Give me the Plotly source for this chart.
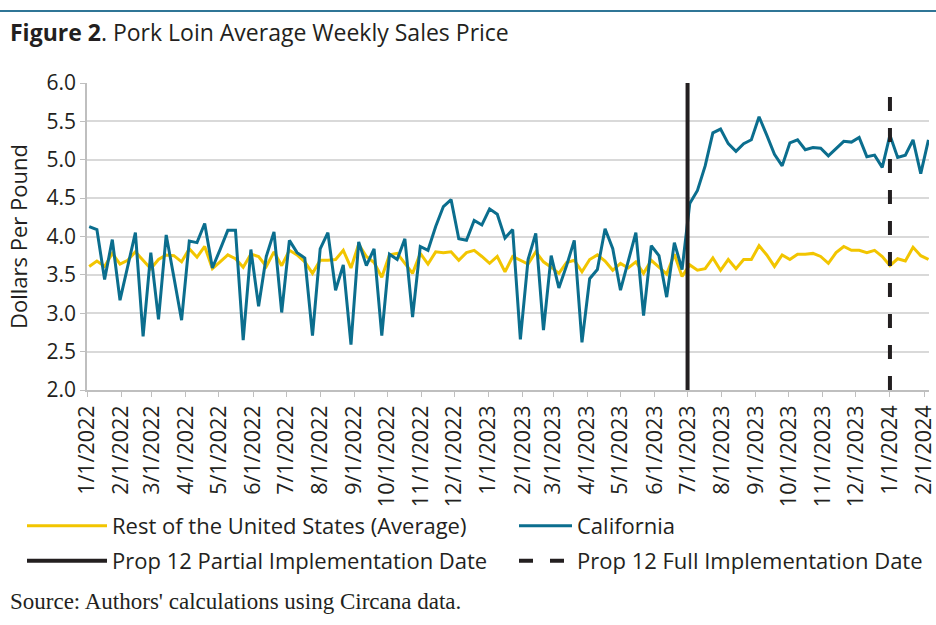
import pandas as pd
import plotly.graph_objects as go

# ---------------- data ----------------
first_week = "2022-01-03"
n_weeks = 110
week_dates = pd.date_range(first_week, periods=n_weeks, freq="7D")

rest_of_us = [
    3.61, 3.68, 3.61, 3.78, 3.64, 3.69, 3.80, 3.69, 3.58, 3.70,
    3.76, 3.75, 3.67, 3.84, 3.73, 3.87, 3.58, 3.67, 3.76, 3.71,
    3.60, 3.77, 3.74, 3.61, 3.80, 3.62, 3.82, 3.76, 3.67, 3.52,
    3.69, 3.69, 3.70, 3.82, 3.59, 3.90, 3.74, 3.66, 3.47, 3.76,
    3.78, 3.65, 3.52, 3.78, 3.64, 3.80, 3.79, 3.80, 3.69, 3.79,
    3.82, 3.74, 3.65, 3.74, 3.54, 3.74, 3.69, 3.64, 3.80, 3.67,
    3.60, 3.52, 3.66, 3.69, 3.54, 3.70, 3.76, 3.68, 3.56, 3.65,
    3.59, 3.67, 3.52, 3.69, 3.60, 3.51, 3.77, 3.48, 3.63, 3.56,
    3.58, 3.72, 3.56, 3.70, 3.58, 3.70, 3.70, 3.88, 3.76, 3.61,
    3.76, 3.70, 3.77, 3.77, 3.78, 3.74, 3.65, 3.79, 3.87, 3.82,
    3.82, 3.79, 3.82, 3.74, 3.62, 3.71, 3.68, 3.86, 3.75, 3.70,
]

california = [
    4.13, 4.09, 3.44, 3.96, 3.17, 3.62, 4.05, 2.70, 3.79, 2.92,
    4.02, 3.47, 2.91, 3.94, 3.92, 4.17, 3.59, 3.83, 4.08, 4.08,
    2.65, 3.83, 3.09, 3.74, 4.06, 3.01, 3.95, 3.79, 3.72, 2.71,
    3.84, 4.05, 3.30, 3.63, 2.59, 3.93, 3.62, 3.84, 2.71, 3.77,
    3.70, 3.97, 2.95, 3.87, 3.82, 4.13, 4.39, 4.48, 3.97, 3.95,
    4.21, 4.15, 4.36, 4.29, 3.98, 4.09, 2.66, 3.70, 4.04, 2.78,
    3.75, 3.33, 3.62, 3.95, 2.62, 3.45, 3.57, 4.10, 3.84, 3.30,
    3.69, 4.05, 2.97, 3.88, 3.75, 3.21, 3.92, 3.57, 4.43, 4.60,
    4.92, 5.35, 5.40, 5.21, 5.11, 5.21, 5.26, 5.56, 5.32, 5.07,
    4.92, 5.22, 5.26, 5.13, 5.16, 5.15, 5.05, 5.15, 5.24, 5.23,
    5.29, 5.04, 5.06, 4.90, 5.32, 5.03, 5.06, 5.26, 4.82, 5.26,
]

partial_date = "2023-07-01"
full_date = "2024-01-01"
y_limits = [2.0, 6.0]

tick_dates = [
    "2022-01-01", "2022-02-01", "2022-03-01", "2022-04-01", "2022-05-01",
    "2022-06-01", "2022-07-01", "2022-08-01", "2022-09-01", "2022-10-01",
    "2022-11-01", "2022-12-01", "2023-01-01", "2023-02-01", "2023-03-01",
    "2023-04-01", "2023-05-01", "2023-06-01", "2023-07-01", "2023-08-01",
    "2023-09-01", "2023-10-01", "2023-11-01", "2023-12-01", "2024-01-01",
    "2024-02-01",
]
tick_labels = [
    "1/1/2022", "2/1/2022", "3/1/2022", "4/1/2022", "5/1/2022",
    "6/1/2022", "7/1/2022", "8/1/2022", "9/1/2022", "10/1/2022",
    "11/1/2022", "12/1/2022", "1/1/2023", "2/1/2023", "3/1/2023",
    "4/1/2023", "5/1/2023", "6/1/2023", "7/1/2023", "8/1/2023",
    "9/1/2023", "10/1/2023", "11/1/2023", "12/1/2023", "1/1/2024",
    "2/1/2024",
]

# ---------------- style ----------------
FONT = "Open Sans"
TEXT = "#231F20"
YELLOW = "#F2C500"
BLUE = "#0B6E8E"
BLACK = "#231F20"
GRID = "#D9D9D9"
AXIS = "#BFBFBF"

W, H = 936, 625
L, R, T, B = 87, 7, 83, 235
PW, PH = W - L - R, H - T - B


def px_x(p):
    return (p - L) / PW


def px_y(p):
    return (H - B - p) / PH


fig = go.Figure()
fig.add_trace(go.Scatter(
    x=week_dates, y=rest_of_us, mode="lines",
    name="Rest of the United States (Average)",
    line=dict(color=YELLOW, width=3), legend="legend", showlegend=True))
fig.add_trace(go.Scatter(
    x=week_dates, y=california, mode="lines", name="California",
    line=dict(color=BLUE, width=3), legend="legend2", showlegend=True))
fig.add_trace(go.Scatter(
    x=[partial_date, partial_date], y=y_limits, mode="lines",
    name="Prop 12 Partial Implementation Date",
    line=dict(color=BLACK, width=4), legend="legend3", showlegend=True))
fig.add_trace(go.Scatter(
    x=[full_date, full_date], y=y_limits, mode="lines",
    name="Prop 12 Full Implementation Date",
    line=dict(color=BLACK, width=4, dash="14px,17px"), legend="legend4",
    showlegend=True))

legend_common = dict(
    orientation="v", xanchor="left", yanchor="middle",
    bgcolor="rgba(0,0,0,0)", borderwidth=0,
    font=dict(family=FONT, size=22, color=TEXT),
)

fig.update_layout(
    width=W, height=H,
    showlegend=True,
    margin=dict(l=L, r=R, t=T, b=B, autoexpand=False),
    paper_bgcolor="white", plot_bgcolor="white",
    font=dict(family=FONT, color=TEXT),
    title=dict(
        text="<b>Figure 2</b>. Pork Loin Average Weekly Sales Price",
        x=10 / W, xref="container", xanchor="left",
        y=1 - 33 / H, yref="container", yanchor="middle",
        font=dict(family=FONT, size=23, color=TEXT),
    ),
    xaxis=dict(
        type="date",
        range=["2022-01-01", "2024-02-05 12:00"],
        tickmode="array", tickvals=tick_dates, ticktext=tick_labels,
        tickangle=-90, tickfont=dict(family=FONT, size=21.5, color=TEXT),
        ticklabeloverflow="allow", automargin=False,
        ticks="outside", ticklen=5, tickcolor=AXIS,
        showgrid=False, showline=True, linecolor=AXIS, linewidth=1.5,
        zeroline=False,
    ),
    yaxis=dict(
        range=y_limits, dtick=0.5, tickformat=".1f",
        tickfont=dict(family=FONT, size=21, color=TEXT),
        ticks="outside", ticklen=5, tickcolor=AXIS, automargin=False,
        showgrid=True, gridcolor=GRID, gridwidth=1.5,
        showline=True, linecolor=AXIS, linewidth=1.5, zeroline=False,
        title=dict(text="Dollars Per Pound",
                   font=dict(family=FONT, size=22, color=TEXT), standoff=13),
    ),
    legend=dict(legend_common, x=px_x(22), y=px_y(526), itemwidth=80),
    legend2=dict(legend_common, x=px_x(514), y=px_y(526), itemwidth=53),
    legend3=dict(legend_common, x=px_x(22), y=px_y(561), itemwidth=80),
    legend4=dict(legend_common, x=px_x(514), y=px_y(561), itemwidth=53),
    shapes=[dict(
        type="line", xref="paper", yref="paper",
        x0=px_x(0), x1=px_x(W), y0=px_y(11), y1=px_y(11),
        line=dict(color="#2F7596", width=2), layer="above",
    )],
    annotations=[dict(
        text="Source: Authors' calculations using Circana data.",
        xref="paper", yref="paper", x=px_x(8), y=px_y(601),
        xanchor="left", yanchor="middle", showarrow=False,
        font=dict(family="Liberation Serif", size=23, color=TEXT),
    )],
)

fig.write_html(
    "out.html",
    config={"displayModeBar": False},
    post_script="document.body.style.margin='0';"
                "document.body.style.overflow='hidden';",
)
